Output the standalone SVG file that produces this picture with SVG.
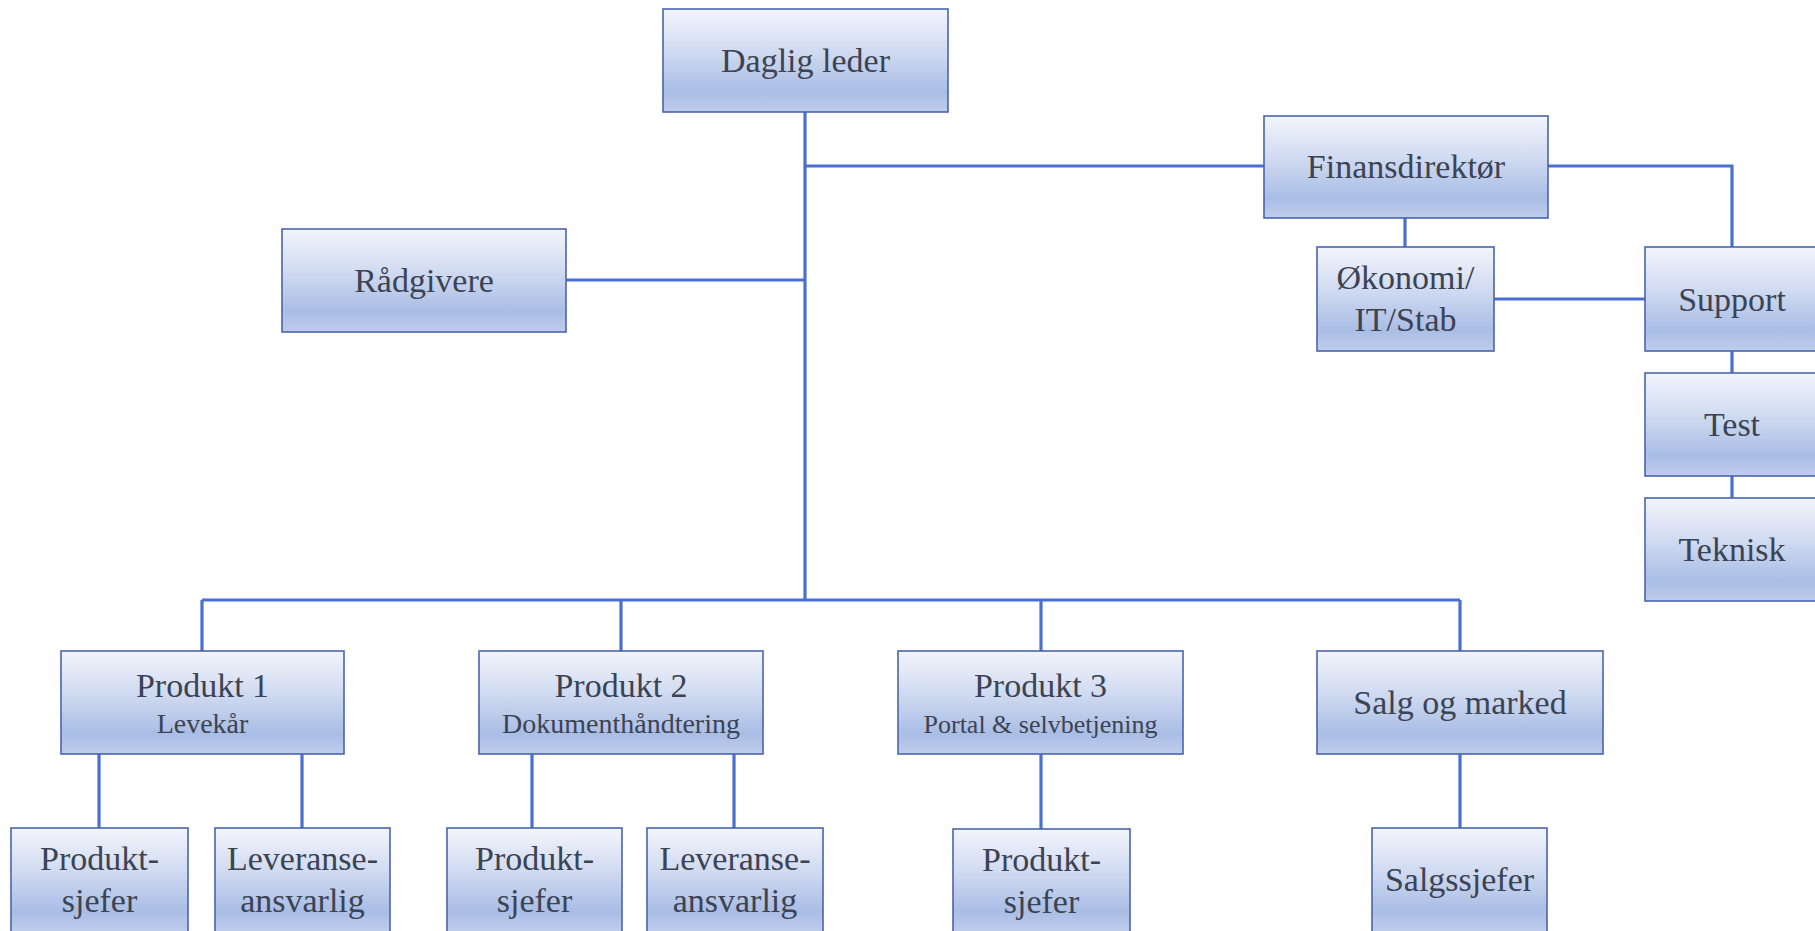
<svg xmlns="http://www.w3.org/2000/svg" width="1815" height="931" viewBox="0 0 1815 931">
<defs>
<linearGradient id="g" x1="0" y1="0" x2="0" y2="1">
<stop offset="0" stop-color="#f3f5fc"/>
<stop offset="0.45" stop-color="#cdd8f0"/>
<stop offset="0.8" stop-color="#a9bde5"/>
<stop offset="1" stop-color="#bfcdec"/>
</linearGradient>
</defs>
<style>
.b{fill:url(#g);stroke:#4a65ad;stroke-width:1.6}
text{font-family:'Liberation Serif','Times New Roman',Times,'DejaVu Serif',serif;fill:#3c4352;text-anchor:middle}
.l{font-size:34px}
.s{font-size:28px}
.c{fill:none;stroke:#4a6fd0;stroke-width:3.2}
</style>
<rect width="1815" height="931" fill="#ffffff"/>
<g id="connectors">
<path class="c" d="M805 112V600"/>
<path class="c" d="M805 166H1264"/>
<path class="c" d="M566 280H805"/>
<path class="c" d="M1548 166H1732V247"/>
<path class="c" d="M1405 218V247"/>
<path class="c" d="M1494 299H1645"/>
<path class="c" d="M1732 351V373"/>
<path class="c" d="M1732 476V498"/>
<path class="c" d="M202 600H1460"/>
<path class="c" d="M202 600V651"/>
<path class="c" d="M621 600V651"/>
<path class="c" d="M1041 600V651"/>
<path class="c" d="M1460 600V651"/>
<path class="c" d="M99 754V828"/>
<path class="c" d="M302 754V828"/>
<path class="c" d="M532 754V828"/>
<path class="c" d="M734 754V828"/>
<path class="c" d="M1041 754V829"/>
<path class="c" d="M1460 754V828"/>
</g>
<g font-family="Liberation Serif, serif">
<g id="daglig-leder"><rect class="b" x="663" y="9" width="285" height="103"/><text class="l" x="805.5" y="72">Daglig leder</text></g>
<g id="radgivere"><rect class="b" x="282" y="229" width="284" height="103"/><text class="l" x="424" y="292">Rådgivere</text></g>
<g id="finansdirektor"><rect class="b" x="1264" y="116" width="284" height="102"/><text class="l" x="1406" y="178">Finansdirektør</text></g>
<g id="okonomi"><rect class="b" x="1317" y="247" width="177" height="104"/><text class="l" x="1405.5" y="289">Økonomi/</text><text class="l" x="1405.5" y="331">IT/Stab</text></g>
<g id="support"><rect class="b" x="1645" y="247" width="175" height="104"/><text class="l" x="1732" y="311">Support</text></g>
<g id="test"><rect class="b" x="1645" y="373" width="175" height="103"/><text class="l" x="1732" y="436">Test</text></g>
<g id="teknisk"><rect class="b" x="1645" y="498" width="175" height="103"/><text class="l" x="1732" y="561">Teknisk</text></g>
<g id="produkt1"><rect class="b" x="61" y="651" width="283" height="103"/><text class="l" x="202.5" y="697">Produkt 1</text><text class="s" x="202.5" y="733">Levekår</text></g>
<g id="produkt2"><rect class="b" x="479" y="651" width="284" height="103"/><text class="l" x="621" y="697">Produkt 2</text><text class="s" x="621" y="733">Dokumenthåndtering</text></g>
<g id="produkt3"><rect class="b" x="898" y="651" width="285" height="103"/><text class="l" x="1040.5" y="697">Produkt 3</text><text style="font-size:26px" x="1040.5" y="733">Portal &amp; selvbetjening</text></g>
<g id="salg"><rect class="b" x="1317" y="651" width="286" height="103"/><text class="l" x="1460" y="714">Salg og marked</text></g>
<g id="p1-produktsjefer"><rect class="b" x="11" y="828" width="177" height="104"/><text class="l" x="99.5" y="870">Produkt-</text><text class="l" x="99.5" y="912">sjefer</text></g>
<g id="p1-leveranse"><rect class="b" x="215" y="828" width="175" height="104"/><text class="l" x="302.5" y="870">Leveranse-</text><text class="l" x="302.5" y="912">ansvarlig</text></g>
<g id="p2-produktsjefer"><rect class="b" x="447" y="828" width="175" height="104"/><text class="l" x="534.5" y="870">Produkt-</text><text class="l" x="534.5" y="912">sjefer</text></g>
<g id="p2-leveranse"><rect class="b" x="647" y="828" width="176" height="104"/><text class="l" x="735" y="870">Leveranse-</text><text class="l" x="735" y="912">ansvarlig</text></g>
<g id="p3-produktsjefer"><rect class="b" x="953" y="829" width="177" height="103"/><text class="l" x="1041.5" y="871">Produkt-</text><text class="l" x="1041.5" y="913">sjefer</text></g>
<g id="salgssjefer"><rect class="b" x="1372" y="828" width="175" height="104"/><text class="l" x="1459.5" y="891">Salgssjefer</text></g>
</g>
</svg>
